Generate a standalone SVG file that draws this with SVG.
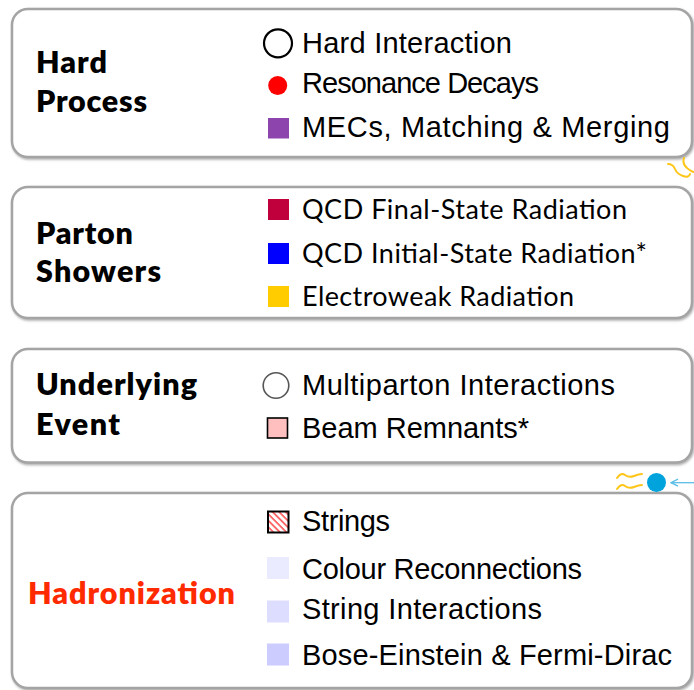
<svg xmlns="http://www.w3.org/2000/svg" width="694" height="690" viewBox="0 0 694 690">
<style>
.box{fill:#fff;stroke:#a4a4a4;stroke-width:2.5;filter:url(#sh)}
.title{font-family:Lato,"Open Sans",sans-serif;font-weight:800;font-size:30.5px;fill:#000}
.item{font-family:"Liberation Sans",Arial,sans-serif;font-size:29px;fill:#000}
.item2{font-family:Lato,"Open Sans",sans-serif;font-size:27px;fill:#000}
.wave{fill:none;stroke:#FFC61A;stroke-width:2;stroke-linecap:round}
</style>
<defs>
<filter id="sh" x="-5%" y="-5%" width="110%" height="115%">
<feDropShadow dx="1" dy="1.5" stdDeviation="1" flood-color="#777" flood-opacity="0.6"/>
</filter>
<pattern id="hatch" patternUnits="userSpaceOnUse" width="4.6" height="4.6" patternTransform="rotate(-45)">
<rect width="4.6" height="4.6" fill="#fff"/>
<line x1="1" y1="0" x2="1" y2="4.6" stroke="#FF0000" stroke-width="1.1"/>
</pattern>
<marker id="arr" markerWidth="10" markerHeight="10" refX="9" refY="5" orient="auto" markerUnits="userSpaceOnUse">
<path d="M2,1.5 L9,5 L2,8.5" fill="none" stroke="#5BBDE8" stroke-width="1.3"/>
</marker>
</defs>
<rect width="694" height="690" fill="#fff"/>

<g id="hard-process">
<rect class="box" x="12" y="9" width="680" height="148" rx="16"/>
<text class="title" x="36" y="73" textLength="71">Hard</text>
<text class="title" x="36" y="112" textLength="111">Process</text>
<circle cx="278" cy="43.3" r="14" fill="none" stroke="#000" stroke-width="2.2"/>
<text class="item" x="302" y="53" textLength="210">Hard Interaction</text>
<circle cx="277.7" cy="85.5" r="9.5" fill="#FF0000"/>
<text class="item" x="302" y="93" textLength="237">Resonance Decays</text>
<rect x="268" y="118" width="21" height="20.5" fill="#8E44AD"/>
<text class="item" x="302" y="137" textLength="368">MECs, Matching &amp; Merging</text>
</g>

<g id="parton-showers">
<rect class="box" x="12" y="187" width="680" height="131" rx="16"/>
<text class="title" x="36" y="244" textLength="97">Parton</text>
<text class="title" x="36" y="282" textLength="125">Showers</text>
<rect x="268" y="199" width="21" height="21" fill="#C0003C"/>
<text class="item2" x="302" y="219" textLength="325">QCD Final-State Radiation</text>
<rect x="268" y="243" width="21" height="21" fill="#0000FF"/>
<text class="item2" x="302" y="263" textLength="345">QCD Initial-State Radiation*</text>
<rect x="268" y="286" width="21" height="21" fill="#FFCC00"/>
<text class="item2" x="302" y="306" textLength="272">Electroweak Radiation</text>
</g>

<g id="underlying-event">
<rect class="box" x="12" y="349" width="680" height="113.5" rx="16"/>
<text class="title" x="36" y="395" textLength="161">Underlying</text>
<text class="title" x="36" y="435" textLength="84">Event</text>
<circle cx="276" cy="385.5" r="12.8" fill="none" stroke="#555" stroke-width="1.6"/>
<text class="item" x="302" y="395" textLength="313">Multiparton Interactions</text>
<rect x="267.5" y="418" width="20" height="20" fill="#FFBFBF" stroke="#000" stroke-width="1.6"/>
<text class="item" x="302" y="438" textLength="227">Beam Remnants*</text>
</g>

<g id="hadronization">
<rect class="box" x="12" y="493" width="680" height="195" rx="16"/>
<text class="title" x="28" y="604" textLength="207" style="fill:#FF2A00">Hadronization</text>
<rect x="268" y="511.5" width="20.5" height="21" fill="url(#hatch)" stroke="#000" stroke-width="2"/>
<text class="item" x="302" y="531" textLength="88">Strings</text>
<rect x="267" y="557" width="22" height="22" fill="#EBEBFF"/>
<text class="item" x="302" y="579" textLength="280">Colour Reconnections</text>
<rect x="267" y="600.5" width="22" height="22" fill="#DDDDFF"/>
<text class="item" x="302" y="619" textLength="240">String Interactions</text>
<rect x="267" y="643.5" width="22" height="22" fill="#CCCCFF"/>
<text class="item" x="302" y="665" textLength="370">Bose-Einstein &amp; Fermi-Dirac</text>
</g>

<g id="decorations">
<path class="wave" d="M617,478 q4,-6 8,-3 t9,1 t8,-2"/>
<path class="wave" d="M617,489 q4,-6 8,-3 t9,1 t8,-2"/>
<circle cx="656.5" cy="482.5" r="9.5" fill="#00A3DC"/>
<path class="wave" d="M668,164 q5,0 7,5 t8,7 t7,-2"/>
<path class="wave" d="M684,158 q-2,6 3,10 t7,4"/>
</g>

<g id="connectors">
<line x1="694" y1="482.7" x2="671" y2="482.7" stroke="#5BBDE8" stroke-width="1.3" marker-end="url(#arr)"/>
</g>
</svg>
